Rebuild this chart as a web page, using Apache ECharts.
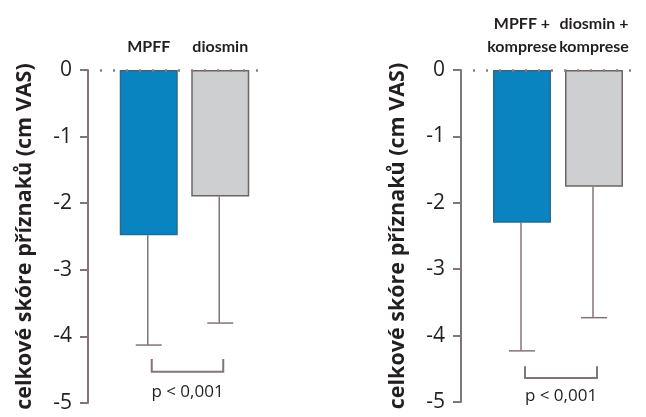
<!DOCTYPE html>
<html>
<head>
<meta charset="utf-8">
<script src="https://cdn.jsdelivr.net/npm/echarts@6/dist/echarts.min.js"></script>
<style>
  html, body { margin: 0; padding: 0; background: #fff; }
  #chart { width: 646px; height: 417px; }
</style>
</head>
<body>
<div id="chart"></div>
<script>
// levy panel: samotna lecba
const leftCategories = ['MPFF', 'diosmin']
const leftMeans = [-2.48, -1.9]
const leftErrLow = [-4.13, -3.8]
// pravy panel: lecba + komprese
const rightCategories = ['MPFF +\nkomprese', 'diosmin +\nkomprese']
const rightMeans = [-2.3, -1.76]
const rightErrLow = [-4.23, -3.73]
// y osa
const yTicks = [0, -1, -2, -3, -4, -5]
const yName = 'celkové skóre příznaků (cm VAS)'
// p-hodnota (zavorka: horni, dolni hrana, popisek)
const leftBracket = [-4.34, -4.53, -4.83]
const rightBracket = [-4.46, -4.64, -4.91]
const pText = 'p < 0,001'

const colors = ['#0a83c1', '#cdcfd1']
const axisColor = '#847475'
const narrow = "Lato, 'Noto Sans', sans-serif"
const sans = "'Open Sans', 'Noto Sans', sans-serif"

const Chart = echarts.init(document.getElementById('chart'))

const makeY = (gridIndex) => ({
  type: 'value',
  gridIndex,
  min: yTicks[yTicks.length - 1],
  max: yTicks[0],
  interval: 1,
  offset: 25,
  name: yName,
  nameLocation: 'middle',
  nameGap: 52,
  nameTextStyle: { fontFamily: sans, fontWeight: 'bold', fontSize: 21.5, color: '#231f20' },
  axisLine: { show: true, lineStyle: { color: axisColor, width: 2 } },
  axisTick: { show: true, length: 8, lineStyle: { color: axisColor, width: 2 } },
  axisLabel: { margin: 16, fontFamily: sans, fontSize: 21, color: '#231f20' },
  splitLine: { show: false },
})

const makeX = (gridIndex, data) => ({
  type: 'category',
  gridIndex,
  data,
  position: 'top',
  axisLine: { show: false },
  axisTick: { show: false },
  axisLabel: {
    interval: 0,
    hideOverlap: false,
    margin: 12,
    fontFamily: narrow,
    fontWeight: 'bold',
    fontSize: 16,
    lineHeight: 23,
    color: '#231f20',
  },
})

const barSeries = (idx, values, lineFrom, lineTo) => ({
  type: 'bar',
  xAxisIndex: idx,
  yAxisIndex: idx,
  barWidth: 58,
  z: 3,
  data: values.map((v, i) => ({
    value: v,
    itemStyle: {
      color: colors[i],
      borderColor: i === 0 ? '#2a6a90' : '#6f6566',
      borderWidth: 1.5,
    },
  })),
  markLine: {
    silent: true,
    symbol: 'none',
    label: { show: false },
    lineStyle: { color: '#8a7c7c', type: [2, 11], width: 2.5 },
    data: [[{ x: lineFrom, yAxis: 0 }, { x: lineTo, yAxis: 0 }]],
  },
})

const errorSeries = (idx, means, lows) => ({
  type: 'custom',
  xAxisIndex: idx,
  yAxisIndex: idx,
  z: 2,
  data: means.map((m, i) => [i, m, lows[i]]),
  renderItem: (params, api) => {
    const top = api.coord([api.value(0), api.value(1)])
    const bot = api.coord([api.value(0), api.value(2)])
    const style = { stroke: axisColor, lineWidth: 1.5 }
    return {
      type: 'group',
      children: [
        { type: 'line', shape: { x1: top[0] - 1, y1: top[1], x2: bot[0] - 1, y2: bot[1] }, style },
        { type: 'line', shape: { x1: bot[0] - 13, y1: bot[1], x2: bot[0] + 13, y2: bot[1] }, style },
      ],
    }
  },
})

const bracketSeries = (idx, b) => ({
  type: 'custom',
  xAxisIndex: idx,
  yAxisIndex: idx,
  z: 2,
  data: [[0, 1, b[0], b[1], b[2]]],
  renderItem: (params, api) => {
    const a1 = api.coord([api.value(0), api.value(2)])
    const a2 = api.coord([api.value(0), api.value(3)])
    const b1 = api.coord([api.value(1), api.value(2)])
    const b2 = api.coord([api.value(1), api.value(3)])
    const ty = api.coord([api.value(0), api.value(4)])[1]
    const tx = (a1[0] + b1[0]) / 2 + 3
    const style = { stroke: axisColor, lineWidth: 2, fill: null }
    return {
      type: 'group',
      children: [
        {
          type: 'polyline',
          shape: { points: [[a1[0] + 3, a1[1]], [a2[0] + 3, a2[1]], [b2[0] + 3, b2[1]], [b1[0] + 3, b1[1]]] },
          style,
        },
        {
          type: 'text',
          x: tx,
          y: ty,
          style: {
            text: pText,
            fontFamily: sans,
            fontSize: 17,
            fill: '#231f20',
            align: 'center',
            verticalAlign: 'middle',
          },
        },
      ],
    }
  },
})

const option = {
  animation: false,
  backgroundColor: '#ffffff',
  grid: [
    { left: 113, top: 70, width: 143, height: 333 },
    { left: 486, top: 70, width: 144, height: 332 },
  ],
  xAxis: [makeX(0, leftCategories), makeX(1, rightCategories)],
  yAxis: [makeY(0), makeY(1)],
  series: [
    barSeries(0, leftMeans, 100, 268),
    errorSeries(0, leftMeans, leftErrLow),
    bracketSeries(0, leftBracket),
    barSeries(1, rightMeans, 473, 638),
    errorSeries(1, rightMeans, rightErrLow),
    bracketSeries(1, rightBracket),
  ],
}
Chart.setOption(option)
</script>
</body>
</html>
